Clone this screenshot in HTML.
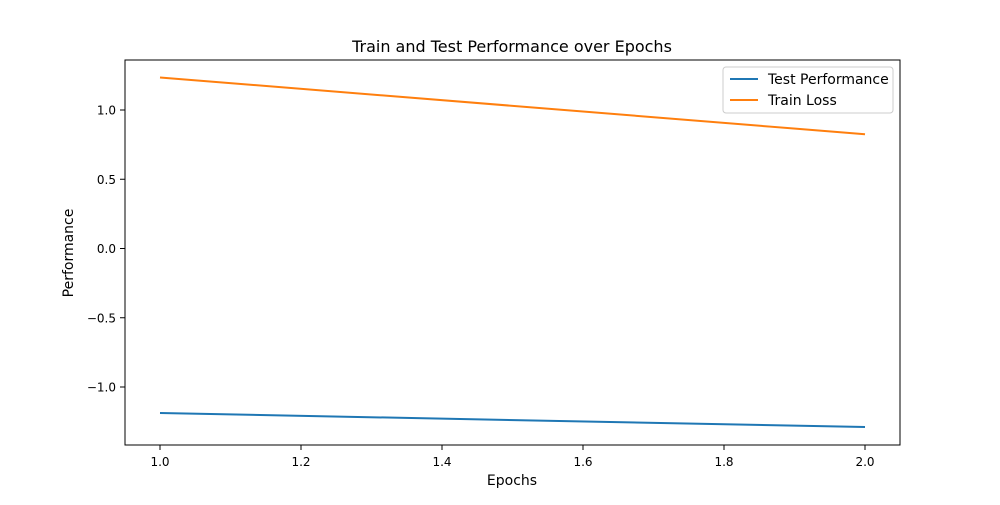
<!DOCTYPE html>
<html><head><meta charset="utf-8"><style>
body{margin:0;background:#fff;font-family:"Liberation Sans","DejaVu Sans",sans-serif;}
svg text{font-family:"DejaVu Sans","Liberation Sans",sans-serif;}
</style></head><body>
<svg id="chart" width="1000" height="500" xmlns="http://www.w3.org/2000/svg">
<rect width="1000" height="500" fill="#fff"/>
<text x="512" y="52" text-anchor="middle" font-size="16">Train and Test Performance over Epochs</text>
<g id="plot"></g>
<rect x="125" y="60" width="775" height="385" fill="none" stroke="#000" stroke-width="1"/>
<text x="512" y="485" text-anchor="middle" font-size="14">Epochs</text>
<text x="73" y="253" text-anchor="middle" font-size="14" transform="rotate(-90 73 253)">Performance</text>
<g>
<rect x="723" y="67" width="170" height="46" rx="3" fill="#fff" stroke="#ccc"/>
<line x1="730" y1="79" x2="758" y2="79" stroke="#1f77b4" stroke-width="2"/>
<text x="768" y="84" font-size="14">Test Performance</text>
<line x1="730" y1="100" x2="758" y2="100" stroke="#ff7f0e" stroke-width="2"/>
<text x="768" y="105" font-size="14">Train Loss</text>
</g>
</svg>
<script>
const epochs=[1.0,2.0];
const testPerf=[-1.188,-1.289];
const trainLoss=[1.235,0.825];
const xTicks=[1.0,1.2,1.4,1.6,1.8,2.0];
const yTicks=[-1.0,-0.5,0.0,0.5,1.0];
const X=v=>160+(v-1)*705;
const Y=v=>248.5-v*138.5;
const g=document.getElementById('plot');
const NS='http://www.w3.org/2000/svg';
function mk(t,a){const e=document.createElementNS(NS,t);for(const k in a)e.setAttribute(k,a[k]);g.appendChild(e);return e;}
xTicks.forEach(v=>{
 const l=mk('line',{x1:X(v),x2:X(v),y1:445,y2:450,stroke:'#000'});
 
 
 const t=mk('text',{x:X(v),y:466,'text-anchor':'middle','font-size':12});
 
 
 t.textContent=v.toFixed(1);
});
yTicks.forEach(v=>{
 const l=mk('line',{x1:120,x2:125,y1:Y(v),y2:Y(v),stroke:'#000'});
 
 
 const t=mk('text',{x:116,y:Y(v)+4.5,'text-anchor':'end','font-size':12});
 
 
 t.textContent=(v<0?'\u2212':'')+Math.abs(v).toFixed(1);
});
function line(vals,color,name){
 const p=mk('polyline',{points:vals.map((v,i)=>X(epochs[i])+','+Y(v)).join(' '),fill:'none',stroke:color,'stroke-width':2});
 
 
}
line(testPerf,'#1f77b4','test-performance-line');
line(trainLoss,'#ff7f0e','train-loss-line');
</script>
</body></html>
